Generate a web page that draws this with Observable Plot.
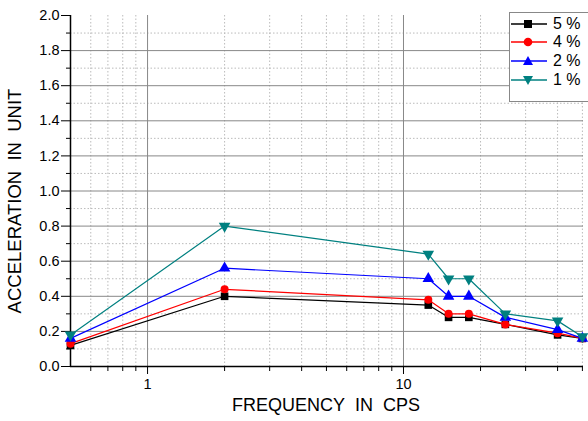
<!DOCTYPE html>
<html><head><meta charset="utf-8">
<script src="https://cdn.jsdelivr.net/npm/d3@7"></script>
<script src="https://cdn.jsdelivr.net/npm/@observablehq/plot@0.6"></script>
<style>
body{margin:0;background:#fff;font-family:"Liberation Sans",Arial,sans-serif;}
#wrap{position:relative;width:588px;height:421px;}
#legend{position:absolute;left:509px;top:12px;width:82px;height:90px;border:1px solid #888;background:#fff;box-sizing:border-box;}
.row{position:absolute;left:0;height:19px;display:flex;align-items:center;font-size:16px;color:#000;}
.row svg{margin-right:5px;}
</style></head>
<body><div id="wrap"><div id="legend"></div></div>
<script>
const freq = [0.5, 2, 12.5, 15, 18, 25, 40, 50];
const d5 = [0.12, 0.40, 0.35, 0.28, 0.28, 0.24, 0.18, 0.16];
const d4 = [0.13, 0.44, 0.38, 0.30, 0.30, 0.24, 0.19, 0.16];
const d2 = [0.16, 0.56, 0.50, 0.40, 0.40, 0.28, 0.21, 0.16];
const d1 = [0.18, 0.80, 0.64, 0.50, 0.50, 0.30, 0.26, 0.17];
const seriesNames = ["5 %", "4 %", "2 %", "1 %"];
const seriesColors = ["#000000", "#ff0000", "#0000ff", "#008080"];
const seriesSymbols = ["square", "circle", "triangle", "triangle"];
const seriesRotate = [0, 0, 0, 180];
const xMajor = [1, 10];
const xMinor = [0.6,0.7,0.8,0.9,2,3,4,5,6,7,8,9,20,30,40,50];
const yMajor = [0,0.2,0.4,0.6,0.8,1.0,1.2,1.4,1.6,1.8,2.0];
const yMinor = [0.1,0.3,0.5,0.7,0.9,1.1,1.3,1.5,1.7,1.9];
const xTitle = "FREQUENCY\u00a0\u00a0IN\u00a0\u00a0CPS";
const yTitle = "ACCELERATION\u00a0\u00a0IN\u00a0\u00a0UNIT";

const allSeries = [d5, d4, d2, d1];
const data = [];
allSeries.forEach((vals, si) => vals.forEach((v, i) => data.push({f: freq[i], v, s: si})));

const marks = [
  Plot.ruleY(yMinor, {stroke: "#bbb", strokeDasharray: "1.5,2"}),
  Plot.ruleX(xMinor, {stroke: "#bbb", strokeDasharray: "1.5,2"}),
  Plot.ruleY(yMajor.filter(d => d > 0 && d < 2), {stroke: "#888"}),
  Plot.ruleX(xMajor, {stroke: "#888"}),
  Plot.axisY({ticks: yMajor, tickSize: 9, tickFormat: d3.format(".1f"), label: null, fontSize: 14.5, tickPadding: 2}),
  Plot.axisY({ticks: yMinor, tickSize: 4, tickFormat: () => "", label: null}),
  Plot.axisX({ticks: xMajor, tickSize: 8, tickFormat: d => String(d), label: null, fontSize: 14.5, tickPadding: 4}),
  Plot.axisX({ticks: xMinor, tickSize: 5, tickFormat: () => "", label: null}),
  Plot.ruleX([0.5], {stroke: "#000", strokeWidth: 1.5}),
  Plot.ruleY([0], {stroke: "#000", strokeWidth: 1.5}),
];
allSeries.forEach((vals, si) => {
  const rows = data.filter(d => d.s === si);
  marks.push(Plot.line(rows, {x: "f", y: "v", stroke: seriesColors[si], strokeWidth: 1.2}));
  marks.push(Plot.dot(rows, {x: "f", y: "v", fill: seriesColors[si], stroke: "none", symbol: seriesSymbols[si], r: si === 1 ? 4 : 4.3, rotate: seriesRotate[si]}));
});
marks.push(Plot.text([xTitle], {frameAnchor: "bottom", dy: 44, dx: -1, fontSize: 18, fill: "#000", textAnchor: "middle"}));
marks.push(Plot.text([yTitle], {frameAnchor: "left", dx: -55, dy: 10, rotate: -90, fontSize: 18.5, fill: "#000", textAnchor: "middle"}));

const chart = Plot.plot({
  width: 588, height: 421,
  marginLeft: 70, marginRight: 5, marginTop: 15, marginBottom: 55,
  style: {fontFamily: "'Liberation Sans', Arial, sans-serif", color: "#000", background: "#fff"},
  x: {type: "log", domain: [0.5, 50.5]},
  y: {domain: [0, 2]},
  marks
});
document.getElementById("wrap").prepend(chart);

const legend = document.getElementById("legend");
seriesNames.forEach((name, i) => {
  const row = document.createElement("div");
  row.className = "row";
  row.style.top = (1 + i * 18.7) + "px";
  const c = seriesColors[i];
  let sym;
  if (seriesSymbols[i] === "square") sym = `<rect x="14" y="5" width="8" height="8" fill="${c}"/>`;
  else if (seriesSymbols[i] === "circle") sym = `<circle cx="18" cy="9" r="4.3" fill="${c}"/>`;
  else if (seriesRotate[i] === 0) sym = `<path d="M18,4 L23,13 L13,13 Z" fill="${c}"/>`;
  else sym = `<path d="M18,14 L23,5 L13,5 Z" fill="${c}"/>`;
  row.innerHTML = `<svg width="38" height="18"><line x1="1" y1="9" x2="37" y2="9" stroke="${c}" stroke-width="1.4"/>${sym}</svg><span>${name}</span>`;
  legend.appendChild(row);
});
</script>
</body></html>
